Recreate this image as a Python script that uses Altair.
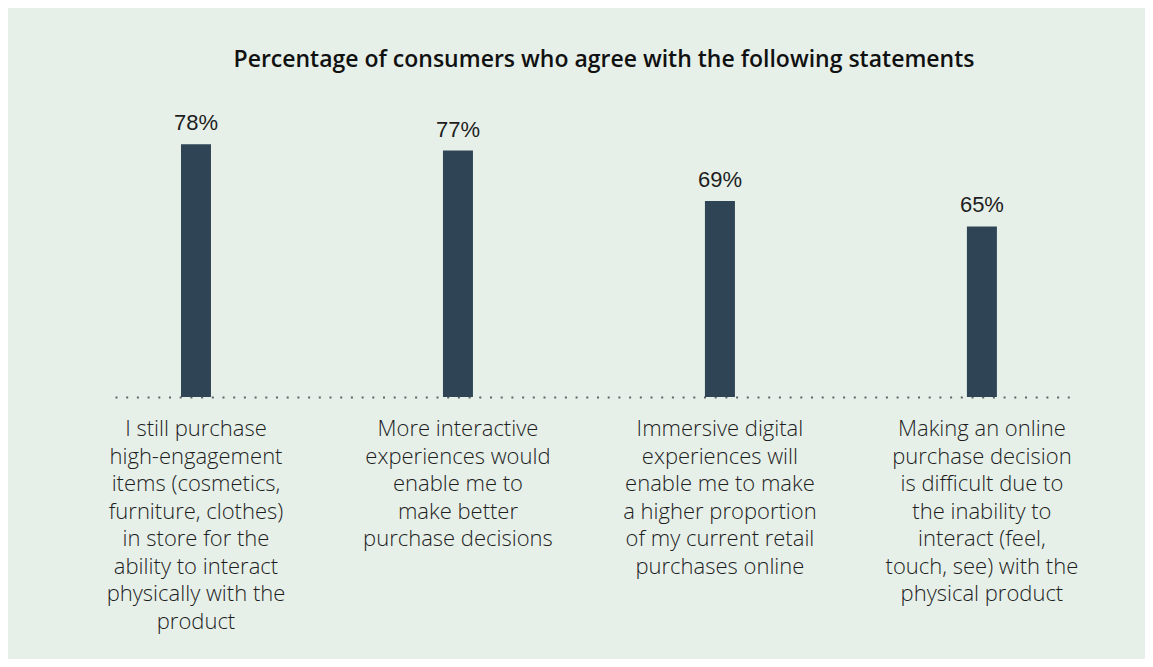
import altair as alt
import pandas as pd

categories = [
    "I still purchase\nhigh-engagement\nitems (cosmetics,\nfurniture, clothes)\nin store for the\nability to interact\nphysically with the\nproduct",
    "More interactive\nexperiences would\nenable me to\nmake better\npurchase decisions",
    "Immersive digital\nexperiences will\nenable me to make\na higher proportion\nof my current retail\npurchases online",
    "Making an online\npurchase decision\nis difficult due to\nthe inability to\ninteract (feel,\ntouch, see) with the\nphysical product",
]
values = [78, 77, 69, 65]
value_labels = ["78%", "77%", "69%", "65%"]

BASE = 38
df = pd.DataFrame({
    "cat": ["A", "B", "C", "D"],
    "text": categories,
    "value": values,
    "label": value_labels,
    "base": [BASE] * 4,
})

FONT = "Open Sans"
BG = "#e6f0e9"
BAR = "#2f4556"
TXT = "#1e1e1e"

xs = alt.Scale(paddingInner=0.8855, paddingOuter=0.275, align=0.458)
x = alt.X(
    "cat:N",
    scale=xs,
    axis=alt.Axis(
        title=None,
        labels=False,
        ticks=False,
        domain=True,
        domainColor="#5f6466",
        domainWidth=2,
        domainDash=[2, 8.7],
    ),
)
y = alt.Y("value:Q", scale=alt.Scale(domain=[BASE, 85], zero=False, nice=False), axis=None)

base = alt.Chart(df)

bars = base.mark_bar(color=BAR).encode(x=x, y=y, y2="base:Q")

texts = base.mark_text(
    dy=-14, baseline="alphabetic", fontSize=22, font="Liberation Sans", color=TXT
).encode(x="cat:N", y="value:Q", text="label:N")

cat_labels = base.mark_text(
    baseline="top", align="center", fontSize=22, font=FONT, fontWeight=300, color=TXT,
    lineBreak="\n", lineHeight=27.5, dy=22,
).encode(x="cat:N", y="base:Q", text="text:N")

chart = (
    alt.layer(bars, texts, cat_labels)
    .properties(
        width=960,
        height=297,
        background=BG,
        padding={"left": 107, "top": 92, "right": 70, "bottom": 262},
        autosize=alt.AutoSizeParams(type="none"),
        title=alt.TitleParams(
            "Percentage of consumers who agree with the following statements",
            font=FONT,
            fontSize=23,
            fontWeight=600,
            color="#111111",
            anchor="middle",
            offset=28,
            dx=9,
        ),
    )
    .configure_view(stroke=None)
)

chart.save("out.html", embed_options={"renderer": "svg", "actions": False})
